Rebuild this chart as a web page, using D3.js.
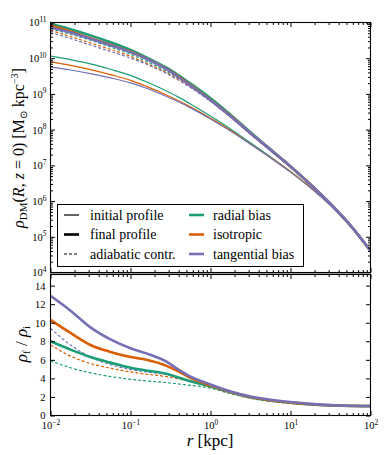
<!DOCTYPE html>
<html><head><meta charset="utf-8">
<script src="https://cdn.jsdelivr.net/npm/d3@7"></script>
<style>
html,body{margin:0;padding:0;background:#fff;}
svg{display:block;}
</style></head><body>
<svg id="chart" width="390" height="455"></svg>
<script>
// ---------------- data ----------------
const radii = [0.01, 0.0178, 0.0316, 0.0562, 0.1, 0.158, 0.282, 0.398, 0.562, 1, 1.78, 3.16, 5.62, 10, 17.8, 31.6, 56.2, 100];

const models = ["radial bias", "isotropic", "tangential bias"];
const colors = ["#1b9e77", "#d95f02", "#7570b3"];

// log10 of initial DM density [Msun kpc^-3]
const logRhoInitialRadial     = [10.06, 9.96, 9.84, 9.69, 9.52, 9.34, 9.08, 8.91, 8.72, 8.38, 8.02, 7.63, 7.24, 6.83, 6.38, 5.88, 5.30, 4.60];
const logRhoInitialIsotropic  = [9.90, 9.80, 9.68, 9.54, 9.38, 9.21, 8.97, 8.81, 8.64, 8.32, 7.98, 7.60, 7.22, 6.82, 6.38, 5.88, 5.30, 4.60];
const logRhoInitialTangential = [9.75, 9.67, 9.57, 9.45, 9.31, 9.16, 8.93, 8.78, 8.61, 8.30, 7.96, 7.59, 7.21, 6.81, 6.37, 5.88, 5.30, 4.60];

// rho_final / rho_initial
const ratioFinalRadial     = [8.0, 7.1, 6.3, 5.7, 5.15, 4.85, 4.5, 4.1, 3.7, 3.15, 2.5, 1.97, 1.62, 1.38, 1.2, 1.09, 1.03, 1.01];
const ratioFinalIsotropic  = [10.3, 8.9, 7.6, 6.85, 6.3, 6.0, 5.35, 4.75, 4.05, 3.25, 2.55, 2.0, 1.65, 1.4, 1.22, 1.1, 1.04, 1.02];
const ratioFinalTangential = [12.9, 11.3, 9.5, 8.2, 7.25, 6.7, 5.8, 4.95, 4.2, 3.35, 2.6, 2.05, 1.7, 1.45, 1.25, 1.12, 1.05, 1.02];

// rho_adiabatic / rho_initial
const ratioAdiabRadial     = [5.9, 5.15, 4.6, 4.2, 3.9, 3.72, 3.55, 3.4, 3.25, 2.95, 2.35, 1.85, 1.52, 1.3, 1.15, 1.06, 1.02, 1.0];
const ratioAdiabIsotropic  = [7.6, 6.4, 5.6, 5.1, 4.7, 4.45, 4.2, 3.95, 3.65, 3.05, 2.4, 1.9, 1.56, 1.33, 1.17, 1.07, 1.02, 1.0];
const ratioAdiabTangential = [9.4, 7.6, 6.3, 5.5, 4.95, 4.7, 4.4, 4.05, 3.7, 3.1, 2.45, 1.93, 1.58, 1.35, 1.18, 1.07, 1.02, 1.0];

const xTickExponents = [-2, -1, 0, 1, 2];
const yTopTickExponents = [4, 5, 6, 7, 8, 9, 10, 11];
const yBotTicks = [0, 2, 4, 6, 8, 10, 12, 14];
const legendLeft = ["initial profile", "final profile", "adiabatic contr."];

// ---------------- layout ----------------
const FONT = "Liberation Serif";
const x0 = 50.5, x1 = 370.5;
const topY0 = 22.5, topY1 = 272.5;
const botY0 = 274.5, botY1 = 415.5;

const x = d3.scaleLog().domain([0.01, 100]).range([x0, x1]);
const yTop = d3.scaleLog().domain([1e4, 1e11]).range([topY1, topY0]);
const yBot = d3.scaleLinear().domain([0, 15.2]).range([botY1, botY0]);

const svg = d3.select("#chart");
const defs = svg.append("defs");
defs.append("clipPath").attr("id", "clipTop").append("rect")
  .attr("x", x0).attr("y", topY0).attr("width", x1 - x0).attr("height", topY1 - topY0);
defs.append("clipPath").attr("id", "clipBot").append("rect")
  .attr("x", x0).attr("y", botY0).attr("width", x1 - x0).attr("height", botY1 - botY0);

const initials = [logRhoInitialRadial, logRhoInitialIsotropic, logRhoInitialTangential];
const finals = [ratioFinalRadial, ratioFinalIsotropic, ratioFinalTangential];
const adiabs = [ratioAdiabRadial, ratioAdiabIsotropic, ratioAdiabTangential];

const lineTop = d3.line().x(d => x(d[0])).y(d => yTop(d[1])).curve(d3.curveMonotoneX);
const lineBot = d3.line().x(d => x(d[0])).y(d => yBot(d[1])).curve(d3.curveMonotoneX);

// ---------------- top panel ----------------
const gTop = svg.append("g").attr("clip-path", "url(#clipTop)");
models.forEach((m, k) => {
  const ini = radii.map((r, i) => [r, Math.pow(10, initials[k][i])]);
  const fin = radii.map((r, i) => [r, Math.pow(10, initials[k][i]) * finals[k][i]]);
  const adi = radii.map((r, i) => [r, Math.pow(10, initials[k][i]) * adiabs[k][i]]);
  gTop.append("path").attr("d", lineTop(ini)).attr("fill", "none")
    .attr("stroke", colors[k]).attr("stroke-width", 1.2);
  gTop.append("path").attr("d", lineTop(adi)).attr("fill", "none")
    .attr("stroke", colors[k]).attr("stroke-width", 1.2).attr("stroke-dasharray", "3,2");
  gTop.append("path").attr("d", lineTop(fin)).attr("fill", "none")
    .attr("stroke", colors[k]).attr("stroke-width", 2.6);
});

// ---------------- bottom panel ----------------
const gBot = svg.append("g").attr("clip-path", "url(#clipBot)");
models.forEach((m, k) => {
  const adi = radii.map((r, i) => [r, adiabs[k][i]]);
  gBot.append("path").attr("d", lineBot(adi)).attr("fill", "none")
    .attr("stroke", colors[k]).attr("stroke-width", 1.2).attr("stroke-dasharray", "3,2");
});
models.forEach((m, k) => {
  const fin = radii.map((r, i) => [r, finals[k][i]]);
  gBot.append("path").attr("d", lineBot(fin)).attr("fill", "none")
    .attr("stroke", colors[k]).attr("stroke-width", 2.6);
});

// ---------------- axes ----------------
const xMajor = xTickExponents.map(e => Math.pow(10, e));
const isPow10 = v => Math.abs(Math.log10(v) - Math.round(Math.log10(v))) < 1e-9;
const xMinor = x.ticks().filter(v => !isPow10(v));
const yTopMajor = yTopTickExponents.map(e => Math.pow(10, e));
const yTopMinor = yTop.ticks().filter(v => !isPow10(v));
const MAJ = 4.5, MIN = 2.5;

function styleAxis(sel) {
  sel.attr("font-family", FONT);
  sel.select(".domain").remove();
  sel.selectAll(".tick line").attr("stroke", "#000").attr("stroke-width", 1);
  sel.selectAll(".tick text").attr("fill", "#000").attr("font-family", FONT);
}
function powLabel(sel, size) {
  sel.selectAll(".tick text").each(function(d) {
    const t = d3.select(this);
    const e = Math.round(Math.log10(d));
    t.text(null).attr("font-size", size);
    t.append("tspan").text("10");
    t.append("tspan").attr("font-size", size * 0.7).attr("dy", -size * 0.42)
      .text(String(e).replace("-", "\u2212"));
  });
}
function addAxis(gen, tx, ty) {
  const a = svg.append("g").attr("transform", `translate(${tx},${ty})`).call(gen);
  styleAxis(a);
  return a;
}
const noLab = () => "";

// top panel x ticks (top & bottom spines)
addAxis(d3.axisTop(x).tickValues(xMajor).tickSize(-MAJ).tickSizeOuter(0).tickFormat(noLab), 0, topY0);
addAxis(d3.axisTop(x).tickValues(xMinor).tickSize(-MIN).tickSizeOuter(0).tickFormat(noLab), 0, topY0);
addAxis(d3.axisBottom(x).tickValues(xMajor).tickSize(-MAJ).tickSizeOuter(0).tickFormat(noLab), 0, topY1);
addAxis(d3.axisBottom(x).tickValues(xMinor).tickSize(-MIN).tickSizeOuter(0).tickFormat(noLab), 0, topY1);
// bottom panel x ticks
addAxis(d3.axisTop(x).tickValues(xMajor).tickSize(-MAJ).tickSizeOuter(0).tickFormat(noLab), 0, botY0);
addAxis(d3.axisTop(x).tickValues(xMinor).tickSize(-MIN).tickSizeOuter(0).tickFormat(noLab), 0, botY0);
const xb = addAxis(d3.axisBottom(x).tickValues(xMajor).tickSize(-MAJ).tickSizeOuter(0).tickPadding(6), 0, botY1);
powLabel(xb, 10.5);
addAxis(d3.axisBottom(x).tickValues(xMinor).tickSize(-MIN).tickSizeOuter(0).tickFormat(noLab), 0, botY1);

// top panel y ticks
const yl = addAxis(d3.axisLeft(yTop).tickValues(yTopMajor).tickSize(-MAJ).tickSizeOuter(0).tickPadding(4), x0, 0);
powLabel(yl, 10.5);
addAxis(d3.axisLeft(yTop).tickValues(yTopMinor).tickSize(-MIN).tickSizeOuter(0).tickFormat(noLab), x0, 0);
addAxis(d3.axisRight(yTop).tickValues(yTopMajor).tickSize(-MAJ).tickSizeOuter(0).tickFormat(noLab), x1, 0);
addAxis(d3.axisRight(yTop).tickValues(yTopMinor).tickSize(-MIN).tickSizeOuter(0).tickFormat(noLab), x1, 0);

// bottom panel y ticks
const ybl = addAxis(d3.axisLeft(yBot).tickValues(yBotTicks).tickSize(-MAJ).tickSizeOuter(0).tickPadding(5), x0, 0);
ybl.selectAll(".tick text").attr("font-size", 10.5);
addAxis(d3.axisRight(yBot).tickValues(yBotTicks).tickSize(-MAJ).tickSizeOuter(0).tickFormat(noLab), x1, 0);

// spines
svg.append("rect").attr("x", x0).attr("y", topY0).attr("width", x1 - x0).attr("height", topY1 - topY0)
  .attr("fill", "none").attr("stroke", "#000").attr("stroke-width", 1.1);
svg.append("rect").attr("x", x0).attr("y", topY1 + 0.5).attr("width", x1 - x0).attr("height", botY0 - topY1 - 1)
  .attr("fill", "#999").attr("stroke", "none");
svg.append("rect").attr("x", x0).attr("y", botY0).attr("width", x1 - x0).attr("height", botY1 - botY0)
  .attr("fill", "none").attr("stroke", "#000").attr("stroke-width", 1.1);

// ---------------- legend ----------------
const lg = svg.append("g");
lg.append("rect").attr("x", 57.5).attr("y", 204.5).attr("width", 246).attr("height", 62)
  .attr("fill", "#fff").attr("stroke", "#000").attr("stroke-width", 1);
const rowsY = [215, 234.5, 254];
const leftStyles = [{w: 1.2, dash: null}, {w: 2.6, dash: null}, {w: 1.2, dash: "3,2"}];
legendLeft.forEach((t, i) => {
  const l = lg.append("line").attr("x1", 64).attr("x2", 79).attr("y1", rowsY[i]).attr("y2", rowsY[i])
    .attr("stroke", "#000").attr("stroke-width", leftStyles[i].w);
  if (leftStyles[i].dash) l.attr("stroke-dasharray", leftStyles[i].dash);
  lg.append("text").attr("x", 90).attr("y", rowsY[i] + 4.5).attr("font-size", 14)
    .attr("font-family", FONT).text(t);
});
models.forEach((t, i) => {
  lg.append("line").attr("x1", 189).attr("x2", 204).attr("y1", rowsY[i]).attr("y2", rowsY[i])
    .attr("stroke", colors[i]).attr("stroke-width", 2.6);
  lg.append("text").attr("x", 213).attr("y", rowsY[i] + 4.5).attr("font-size", 14)
    .attr("font-family", FONT).text(t);
});

// ---------------- axis labels ----------------
const ylab = svg.append("text").attr("transform", "translate(24,148) rotate(-90)")
  .attr("text-anchor", "middle").attr("font-size", 16).attr("font-family", FONT);
ylab.append("tspan").attr("font-style", "italic").text("ρ");
ylab.append("tspan").attr("font-size", 11).attr("dy", 3).text("DM");
ylab.append("tspan").attr("dy", -3).text("(");
ylab.append("tspan").attr("font-style", "italic").text("R");
ylab.append("tspan").text(", ");
ylab.append("tspan").attr("font-style", "italic").text("z");
ylab.append("tspan").text(" = 0) [M");
ylab.append("tspan").attr("font-size", 10).attr("dy", 3).text("⊙");
ylab.append("tspan").attr("dy", -3).text(" kpc");
ylab.append("tspan").attr("font-size", 10).attr("dy", -6).text("−3");
ylab.append("tspan").attr("dy", 6).text("]");

const ylab2 = svg.append("text").attr("transform", "translate(27,344) rotate(-90)")
  .attr("text-anchor", "middle").attr("font-size", 17).attr("font-family", FONT);
ylab2.append("tspan").attr("font-style", "italic").text("ρ");
ylab2.append("tspan").attr("font-size", 11).attr("dy", 3).text("f");
ylab2.append("tspan").attr("dy", -3).text(" / ");
ylab2.append("tspan").attr("font-style", "italic").text("ρ");
ylab2.append("tspan").attr("font-size", 11).attr("dy", 3).text("i");

const xlab = svg.append("text").attr("x", 210).attr("y", 446).attr("text-anchor", "middle")
  .attr("font-size", 17).attr("font-family", FONT);
xlab.append("tspan").attr("font-style", "italic").text("r");
xlab.append("tspan").text(" [kpc]");
</script>
</body></html>
